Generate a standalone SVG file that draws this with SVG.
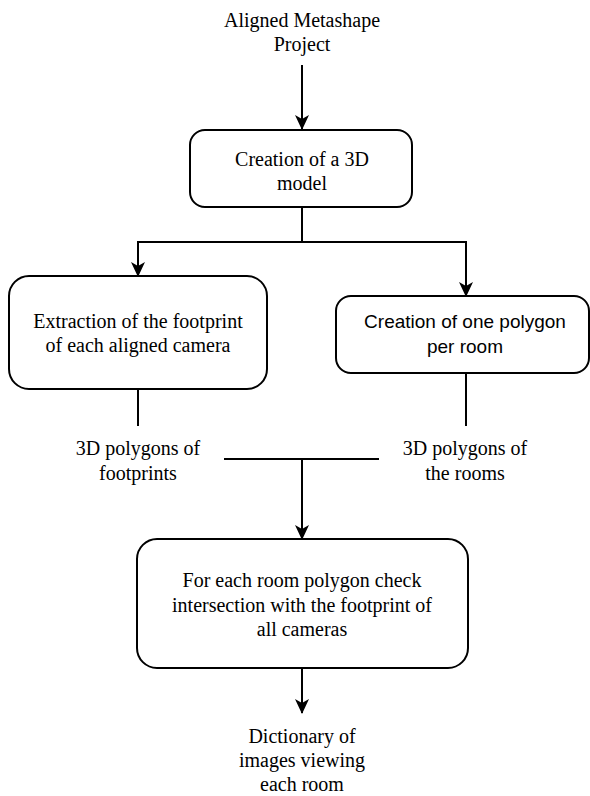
<svg xmlns="http://www.w3.org/2000/svg" width="590" height="796" viewBox="0 0 590 796">
<style>
.box{fill:#fff;stroke:#000;stroke-width:2}
.ln{fill:none;stroke:#000;stroke-width:2}
.t{font-family:"Liberation Serif","Times New Roman",serif;font-size:20px;fill:#000;text-anchor:middle}
.s{font-family:"Liberation Sans",Arial,sans-serif;font-size:19px;fill:#000;text-anchor:middle}
</style>
<defs>
<marker id="a" markerUnits="userSpaceOnUse" markerWidth="15" markerHeight="14" viewBox="0 0 15 14" refX="14" refY="7" orient="auto">
<path d="M0,0 L15,7 L0,14 L4,7 Z" fill="#000"/>
</marker>
</defs>
<g id="connectors">
<line class="ln" x1="302" y1="65" x2="302" y2="129" marker-end="url(#a)"/>
<polyline class="ln" points="302,207 302,242 138,242 138,276" marker-end="url(#a)"/>
<polyline class="ln" points="302,242 466,242 466,296" marker-end="url(#a)"/>
<line class="ln" x1="138" y1="389" x2="138" y2="426"/>
<line class="ln" x1="466" y1="373" x2="466" y2="426"/>
<line class="ln" x1="224" y1="459" x2="379" y2="459"/>
<line class="ln" x1="302" y1="459" x2="302" y2="539" marker-end="url(#a)"/>
<line class="ln" x1="302" y1="668" x2="302" y2="713" marker-end="url(#a)"/>
</g>
<g id="input">
<text class="t" x="302" y="27">Aligned Metashape</text>
<text class="t" x="302" y="51">Project</text>
</g>
<g id="model">
<rect class="box" x="190" y="130" width="222" height="77" rx="15"/>
<text class="t" x="302" y="166">Creation of a 3D</text>
<text class="t" x="302" y="190">model</text>
</g>
<g id="footprint">
<rect class="box" x="9" y="276" width="258" height="113" rx="20"/>
<text class="t" x="138" y="328">Extraction of the footprint</text>
<text class="t" x="138" y="352">of each aligned camera</text>
</g>
<g id="rooms">
<rect class="box" x="336" y="296" width="253" height="77" rx="15"/>
<text class="s" x="465" y="328">Creation of one polygon</text>
<text class="s" x="465" y="353">per room</text>
</g>
<g id="footprints-out">
<text class="t" x="138" y="455">3D polygons of</text>
<text class="t" x="138" y="480">footprints</text>
</g>
<g id="rooms-out">
<text class="t" x="465" y="455">3D polygons of</text>
<text class="t" x="465" y="480">the rooms</text>
</g>
<g id="check">
<rect class="box" x="137" y="539" width="331" height="129" rx="20"/>
<text class="t" x="302" y="587">For each room polygon check</text>
<text class="t" x="302" y="612">intersection with the footprint of</text>
<text class="t" x="302" y="636">all cameras</text>
</g>
<g id="output">
<text class="t" x="302" y="743">Dictionary of</text>
<text class="t" x="302" y="767">images viewing</text>
<text class="t" x="302" y="791">each room</text>
</g>
</svg>
